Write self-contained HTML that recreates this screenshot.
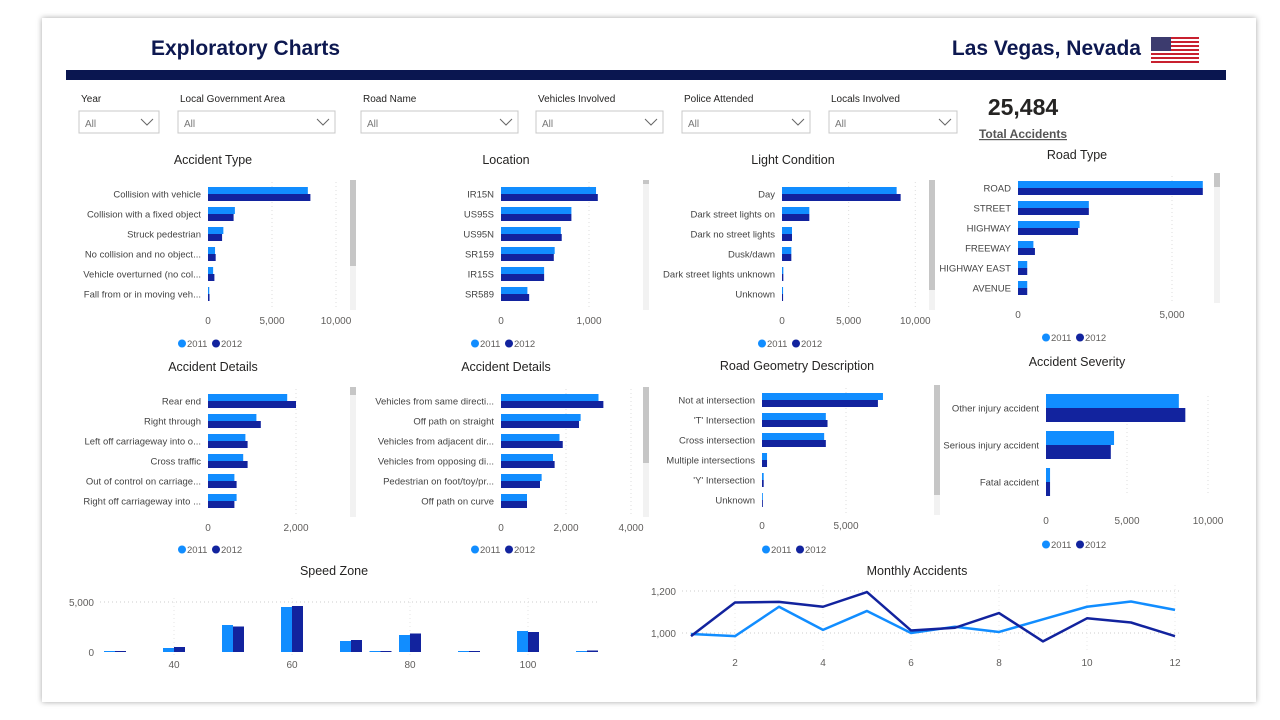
<!DOCTYPE html>
<html><head><meta charset="utf-8">
<style>
html,body{margin:0;padding:0;background:#fff;width:1280px;height:720px;overflow:hidden;font-family:"Liberation Sans",sans-serif}
svg text{font-family:"Liberation Sans",sans-serif}
</style></head>
<body>
<svg id="root" width="1280" height="720" viewBox="0 0 1280 720" xmlns="http://www.w3.org/2000/svg">
<defs>
<filter id="sh" x="-5%" y="-5%" width="110%" height="110%"><feDropShadow dx="0" dy="0" stdDeviation="3" flood-color="#000" flood-opacity="0.35"/></filter>
</defs>
<rect x="42" y="18" width="1214" height="684" fill="#fff" filter="url(#sh)"/>
<text x="151" y="55" font-size="21" font-weight="bold" fill="#0d1850">Exploratory Charts</text>
<text x="1141" y="55" font-size="21" font-weight="bold" fill="#0d1850" text-anchor="end">Las Vegas, Nevada</text>
<g id="flag"></g>
<rect x="66" y="70" width="1160" height="10" fill="#0a1650"/>
<g id="filters"></g>
<text x="1023" y="115" font-size="23" font-weight="bold" fill="#252423" text-anchor="middle">25,484</text>
<text x="1023" y="138" font-size="12" font-weight="bold" fill="#555" text-anchor="middle" text-decoration="underline">Total Accidents</text>
<g id="charts"></g>
</svg>
<script>
const C11='#118DFF', C12='#12239E';
// ---- data ----
const accTypeCats=['Collision with vehicle','Collision with a fixed object','Struck pedestrian','No collision and no object...','Vehicle overturned (no col...','Fall from or in moving veh...'];
const accType2011=[7800,2100,1200,550,400,100];
const accType2012=[8000,2000,1100,600,500,120];
const accTypeTicks=[0,5000,10000];
const locCats=['IR15N','US95S','US95N','SR159','IR15S','SR589'];
const loc2011=[1080,800,680,610,490,300];
const loc2012=[1100,800,690,600,490,320];
const locTicks=[0,1000];
const lightCats=['Day','Dark street lights on','Dark no street lights','Dusk/dawn','Dark street lights unknown','Unknown'];
const light2011=[8600,2050,750,700,100,80];
const light2012=[8900,2050,750,700,100,80];
const lightTicks=[0,5000,10000];
const roadCats=['ROAD','STREET','HIGHWAY','FREEWAY','HIGHWAY EAST','AVENUE'];
const road2011=[6000,2300,2000,500,300,300];
const road2012=[6000,2300,1950,550,300,300];
const roadTicks=[0,5000];
const det1Cats=['Rear end','Right through','Left off carriageway into o...','Cross traffic','Out of control on carriage...','Right off carriageway into ...'];
const det12011=[1800,1100,850,800,600,650];
const det12012=[2000,1200,900,900,650,600];
const det1Ticks=[0,2000];
const det2Cats=['Vehicles from same directi...','Off path on straight','Vehicles from adjacent dir...','Vehicles from opposing di...','Pedestrian on foot/toy/pr...','Off path on curve'];
const det22011=[3000,2450,1800,1600,1250,800];
const det22012=[3150,2400,1900,1650,1200,800];
const det2Ticks=[0,2000,4000];
const geoCats=['Not at intersection',"'T' Intersection",'Cross intersection','Multiple intersections',"'Y' Intersection",'Unknown'];
const geo2011=[7200,3800,3700,300,100,50];
const geo2012=[6900,3900,3800,300,100,50];
const geoTicks=[0,5000];
const sevCats=['Other injury accident','Serious injury accident','Fatal accident'];
const sev2011=[8200,4200,250];
const sev2012=[8600,4000,250];
const sevTicks=[0,5000,10000];
const speedCats=[30,40,50,60,70,75,80,90,100,110];
const speed2011=[100,400,2700,4500,1100,100,1700,100,2100,100];
const speed2012=[100,500,2550,4600,1200,100,1850,100,2000,150];
const speedXTicks=[40,60,80,100];
const speedYTicks=[0,5000];
const months=[1,2,3,4,5,6,7,8,9,10,11,12];
const monthly2011=[995,985,1125,1015,1105,1000,1030,1005,1065,1125,1150,1110];
const monthly2012=[985,1145,1148,1125,1195,1012,1025,1095,960,1070,1050,985];
const monthXTicks=[2,4,6,8,10,12];
const monthYTicks=[1000,1200];

const NS='http://www.w3.org/2000/svg';
function mk(tag,attrs,parent,txt){const e=document.createElementNS(NS,tag);for(const k in attrs)e.setAttribute(k,attrs[k]);if(txt!==undefined)e.textContent=txt;parent.appendChild(e);return e;}
const fmt=v=>v.toLocaleString('en-US');
const charts=document.getElementById('charts');

// flag
(function(){const g=document.getElementById('flag');
for(let i=0;i<13;i++){const r=mk('rect',{x:1151,y:37+i*2,width:48,height:2,fill:i%2?'#fff':'#c8202f'},g);}
const c=mk('rect',{x:1151,y:37,width:20,height:14,fill:'#3c3b6e'},g);})();

// filters
const filterLabels=['Year','Local Government Area','Road Name','Vehicles Involved','Police Attended','Locals Involved'];
const filterX=[79,178,361,536,682,829];
const filterW=[80,157,157,127,128,128];
(function(){const fg=document.getElementById('filters');
filterLabels.forEach((l,i)=>{
 const g=mk('g',{},fg);
 
 
 mk('text',{x:filterX[i]+2,y:102,'font-size':10,fill:'#252423'},g,l);
 mk('rect',{x:filterX[i],y:111,width:filterW[i],height:22,fill:'#fff',stroke:'#c8c8c8'},g);
 mk('text',{x:filterX[i]+6,y:127,'font-size':10,fill:'#777'},g,'All');
 const cx=filterX[i]+filterW[i]-12;
 mk('path',{d:`M${cx-6} 119 L${cx} 125 L${cx+6} 119`,fill:'none',stroke:'#666','stroke-width':1},g);
});})();

function legend(g,cx,y){
 const lg=mk('g',{},g);
 
 
 mk('circle',{cx:cx-31,cy:y-3.5,r:4,fill:C11},lg);
 mk('text',{x:cx-26,y:y,'font-size':9.5,fill:'#605e5c'},lg,'2011');
 mk('circle',{cx:cx+3,cy:y-3.5,r:4,fill:C12},lg);
 mk('text',{x:cx+8,y:y,'font-size':9.5,fill:'#605e5c'},lg,'2012');
}

function hbar(o){
 const g=mk('g',{},charts);
 
 
 mk('text',{x:o.tx,y:o.ty,'font-size':12.5,fill:'#252423','text-anchor':'middle'},g,o.title);
 const sx=v=>o.x0+v*o.ppu;
 const top=o.y0-12, bot=o.y0+o.step*(o.cats.length-1)+14;
 o.ticks.forEach(t=>{
  if(t>0) mk('line',{x1:sx(t),x2:sx(t),y1:top,y2:bot,stroke:'#ddd','stroke-dasharray':'1,3'},g);
  mk('text',{x:sx(t),y:o.tickY,'font-size':10,fill:'#605e5c','text-anchor':'middle'},g,fmt(t));
 });
 o.cats.forEach((c,i)=>{
  const yc=o.y0+o.step*i;
  mk('text',{x:o.x0-7,y:yc+3.5,'font-size':9.5,fill:'#444','text-anchor':'end'},g,c);
  const b1=mk('rect',{x:o.x0,y:yc-o.bh,width:sx(o.a[i])-o.x0,height:o.bh,fill:C11},g);
  
  
  const b2=mk('rect',{x:o.x0,y:yc,width:sx(o.b[i])-o.x0,height:o.bh,fill:C12},g);
  
  
 });
 if(o.sb){
  const s=mk('g',{},g);
  
  
  mk('rect',{x:o.sb[0],y:o.sb[1],width:6,height:o.sb[2],fill:'#f2f2f2'},s);
  mk('rect',{x:o.sb[0],y:o.sb[1],width:6,height:o.sb[3],fill:'#c6c6c6'},s);
 }
 legend(g,o.tx,o.legY);
}

hbar({name:'accident-type-chart',title:'Accident Type',tx:213,ty:164,cats:accTypeCats,a:accType2011,b:accType2012,ticks:accTypeTicks,x0:208,ppu:0.0128,y0:194,step:20,bh:7,tickY:324,legY:347,sb:[350,180,130,86]});
hbar({name:'location-chart',title:'Location',tx:506,ty:164,cats:locCats,a:loc2011,b:loc2012,ticks:locTicks,x0:501,ppu:0.088,y0:194,step:20,bh:7,tickY:324,legY:347,sb:[643,180,130,4]});
hbar({name:'light-condition-chart',title:'Light Condition',tx:793,ty:164,cats:lightCats,a:light2011,b:light2012,ticks:lightTicks,x0:782,ppu:0.01333,y0:194,step:20,bh:7,tickY:324,legY:347,sb:[929,180,130,110]});
hbar({name:'road-type-chart',title:'Road Type',tx:1077,ty:159,cats:roadCats,a:road2011,b:road2012,ticks:roadTicks,x0:1018,ppu:0.0308,y0:188,step:20,bh:7,tickY:318,legY:341,sb:[1214,173,130,14]});
hbar({name:'accident-details-chart-1',title:'Accident Details',tx:213,ty:371,cats:det1Cats,a:det12011,b:det12012,ticks:det1Ticks,x0:208,ppu:0.044,y0:401,step:20,bh:7,tickY:531,legY:553,sb:[350,387,130,8]});
hbar({name:'accident-details-chart-2',title:'Accident Details',tx:506,ty:371,cats:det2Cats,a:det22011,b:det22012,ticks:det2Ticks,x0:501,ppu:0.0325,y0:401,step:20,bh:7,tickY:531,legY:553,sb:[643,387,130,76]});
hbar({name:'road-geometry-chart',title:'Road Geometry Description',tx:797,ty:370,cats:geoCats,a:geo2011,b:geo2012,ticks:geoTicks,x0:762,ppu:0.0168,y0:400,step:20,bh:7,tickY:529,legY:553,sb:[934,385,130,110]});
hbar({name:'accident-severity-chart',title:'Accident Severity',tx:1077,ty:366,cats:sevCats,a:sev2011,b:sev2012,ticks:sevTicks,x0:1046,ppu:0.0162,y0:408,step:37,bh:14,tickY:524,legY:548});

// speed zone
(function(){
 const g=mk('g',{},charts);
 
 
 mk('text',{x:334,y:575,'font-size':12.5,fill:'#252423','text-anchor':'middle'},g,'Speed Zone');
 const sx=v=>174+(v-40)*5.9, sy=v=>652-v*0.01;
 speedYTicks.forEach(t=>{
  if(t>0) mk('line',{x1:100,x2:600,y1:sy(t),y2:sy(t),stroke:'#ccc','stroke-dasharray':'1,3'},g);
  mk('text',{x:94,y:sy(t)+4,'font-size':10,fill:'#605e5c','text-anchor':'end'},g,fmt(t));
 });
 speedXTicks.forEach(t=>{
  mk('line',{x1:sx(t),x2:sx(t),y1:598,y2:655,stroke:'#e4e4e4','stroke-dasharray':'1,3'},g);
  mk('text',{x:sx(t),y:668,'font-size':10,fill:'#605e5c','text-anchor':'middle'},g,t);
 });
 speedCats.forEach((c,i)=>{
  const x=sx(c);
  const b1=mk('rect',{x:x-11,y:sy(speed2011[i]),width:11,height:652-sy(speed2011[i]),fill:C11},g);
  
  
  const b2=mk('rect',{x:x,y:sy(speed2012[i]),width:11,height:652-sy(speed2012[i]),fill:C12},g);
  
  
 });
})();

// monthly
(function(){
 const g=mk('g',{},charts);
 
 
 mk('text',{x:917,y:575,'font-size':12.5,fill:'#252423','text-anchor':'middle'},g,'Monthly Accidents');
 const sx=v=>691+(v-1)*44, sy=v=>633-(v-1000)*0.21;
 monthYTicks.forEach(t=>{
  mk('line',{x1:682,x2:1180,y1:sy(t),y2:sy(t),stroke:'#ccc','stroke-dasharray':'1,3'},g);
  mk('text',{x:676,y:sy(t)+4,'font-size':10,fill:'#605e5c','text-anchor':'end'},g,fmt(t));
 });
 monthXTicks.forEach(t=>{
  mk('line',{x1:sx(t),x2:sx(t),y1:585,y2:650,stroke:'#e8e8e8','stroke-dasharray':'1,3'},g);
  mk('text',{x:sx(t),y:666,'font-size':10,fill:'#605e5c','text-anchor':'middle'},g,t);
 });
 const l1=mk('polyline',{points:months.map((m,i)=>sx(m)+','+sy(monthly2011[i])).join(' '),fill:'none',stroke:C11,'stroke-width':2.5,'stroke-linejoin':'round'},g);
 
 
 const l2=mk('polyline',{points:months.map((m,i)=>sx(m)+','+sy(monthly2012[i])).join(' '),fill:'none',stroke:C12,'stroke-width':2.5,'stroke-linejoin':'round'},g);
 
 
})();
</script>
</body></html>
